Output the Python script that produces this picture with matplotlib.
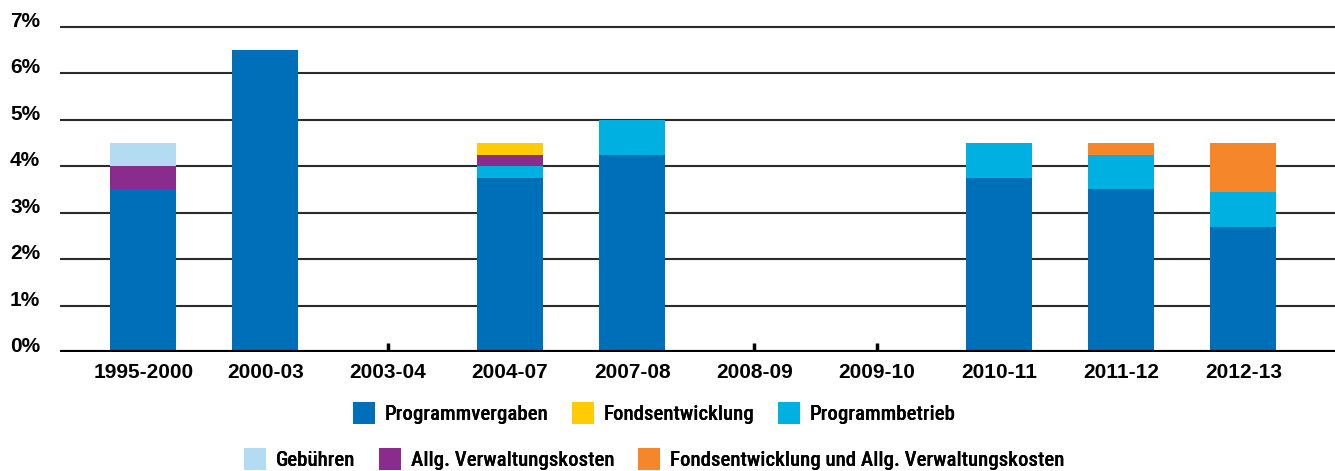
import matplotlib
matplotlib.use("Agg")
import matplotlib.pyplot as plt
import numpy as np
from matplotlib.patches import Patch

categories = ["1995-2000", "2000-03", "2003-04", "2004-07", "2007-08",
              "2008-09", "2009-10", "2010-11", "2011-12", "2012-13"]
programmvergaben = [3.5, 6.5, 0.02, 3.75, 4.25, 0.02, 0.0, 3.75, 3.5, 2.7]
programmbetrieb = [0.0, 0.0, 0.0, 0.25, 0.75, 0.0, 0.0, 0.75, 0.75, 0.75]
allg_verwaltung = [0.5, 0.0, 0.0, 0.25, 0.0, 0.0, 0.0, 0.0, 0.0, 0.0]
gebuehren = [0.5, 0.0, 0.0, 0.0, 0.0, 0.0, 0.0, 0.0, 0.0, 0.0]
fondsentwicklung = [0.0, 0.0, 0.0, 0.25, 0.0, 0.0, 0.0, 0.0, 0.0, 0.0]
fonds_und_allg = [0.0, 0.0, 0.0, 0.0, 0.0, 0.0, 0.0, 0.0, 0.25, 1.05]
yticks = [0, 1, 2, 3, 4, 5, 6, 7]
ytick_labels = ["0%", "1%", "2%", "3%", "4%", "5%", "6%", "7%"]

colors = {
    "Programmvergaben": "#006FBA",
    "Fondsentwicklung": "#FFCB05",
    "Programmbetrieb": "#00B0E0",
    "Gebühren": "#B3DBF2",
    "Allg. Verwaltungskosten": "#8B2B8E",
    "Fondsentwicklung und Allg. Verwaltungskosten": "#F5862A",
}

AXFONT = ["Liberation Sans", "DejaVu Sans"]
LEGFONT = ["Roboto Condensed", "DejaVu Sans"]
plt.rcParams["font.family"] = AXFONT
AXFS = 15
LEGFS = 15

fig = plt.figure(figsize=(13.35, 4.71), dpi=100)
ax = fig.add_axes([0.045, 0.2527, 0.955, 0.6949])

x = np.arange(len(categories))
w = 0.54
stack = [
    ("Programmvergaben", programmvergaben),
    ("Programmbetrieb", programmbetrieb),
    ("Allg. Verwaltungskosten", allg_verwaltung),
    ("Gebühren", gebuehren),
    ("Fondsentwicklung", fondsentwicklung),
    ("Fondsentwicklung und Allg. Verwaltungskosten", fonds_und_allg),
]
bottom = np.zeros(len(categories))
for name, vals in stack:
    vals = np.array(vals)
    ax.bar(x, vals, w, bottom=bottom, color=colors[name], zorder=3, linewidth=0)
    bottom += vals

# gridlines
for t in yticks[1:]:
    ax.axhline(t, color="#2b2b2b", lw=1.5, zorder=1)
ax.axhline(0, color="black", lw=3, zorder=4)

# small tick marks at empty categories
empty = [i for i in range(len(categories)) if bottom[i] < 0.05]
ax.vlines(empty, 0, 0.2, color="black", lw=2.5, zorder=5)

ax.set_xlim(-0.68, 9.75)
ax.set_ylim(0, 7.05)
ax.set_yticks(yticks)
ax.set_yticklabels(ytick_labels)
ax.set_xticks(x)
ax.set_xticklabels(categories)
for s in ax.spines.values():
    s.set_visible(False)
ax.tick_params(axis="y", length=0, pad=36, labelsize=AXFS)
ax.tick_params(axis="x", length=0, pad=8, labelsize=AXFS)
for lab in ax.get_yticklabels():
    lab.set_horizontalalignment("left")
    lab.set_verticalalignment("baseline")
    lab.set_fontweight("bold")
for lab in ax.get_xticklabels():
    lab.set_fontweight("bold")

row1 = ["Programmvergaben", "Fondsentwicklung", "Programmbetrieb"]
row2 = ["Gebühren", "Allg. Verwaltungskosten", "Fondsentwicklung und Allg. Verwaltungskosten"]
for names, ypos in [(row1, 0.123), (row2, 0.025)]:
    handles = [Patch(facecolor=colors[n], edgecolor="none") for n in names]
    leg = fig.legend(handles, names, loc="center", bbox_to_anchor=(0.49, ypos),
                     ncol=3, frameon=False, handlelength=1.06, handleheight=1.2,
                     handletextpad=0.45, columnspacing=1.15,
                     prop={"family": LEGFONT, "size": LEGFS, "weight": 500})
    fig.add_artist(leg)

fig.savefig("out.png", dpi=100)
